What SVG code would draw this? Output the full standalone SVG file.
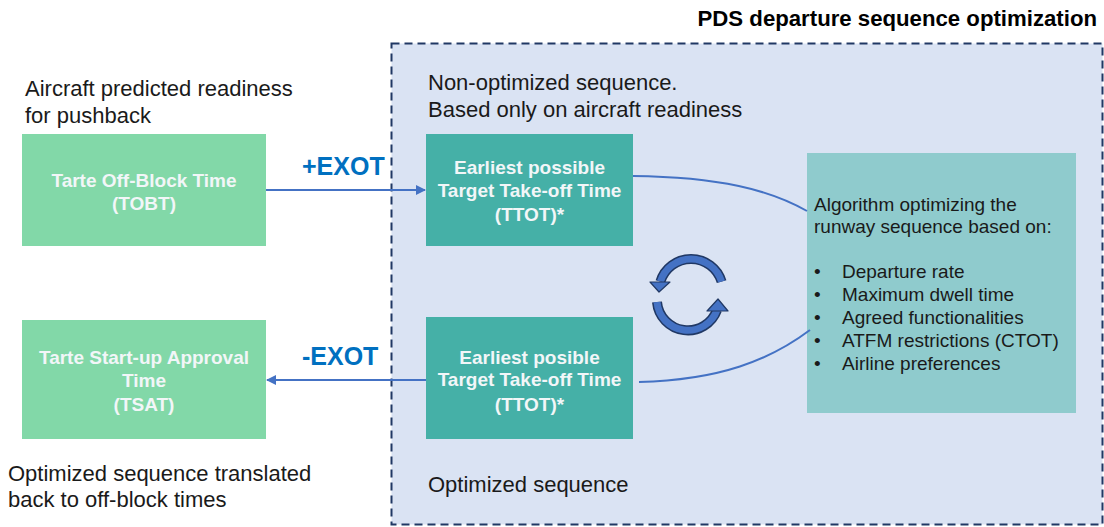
<svg xmlns="http://www.w3.org/2000/svg" width="1104" height="527" viewBox="0 0 1104 527">
<defs>
<style>
.lbl{font-family:"Liberation Sans",Arial,sans-serif;font-size:22px;fill:#1a1a1a}
.box{font-family:"Liberation Sans",Arial,sans-serif;font-size:19px;font-weight:bold;fill:#f2f6f8;text-anchor:middle}
.alg{font-family:"Liberation Sans",Arial,sans-serif;font-size:19px;fill:#1a1a1a}
.exot{font-family:"Liberation Sans",Arial,sans-serif;font-size:25px;font-weight:bold;fill:#0070c0}
.conn{fill:none;stroke:#4472c4;stroke-width:2}
.cyc{fill:none;stroke-linecap:butt}
</style>
<marker id="ah" viewBox="0 0 10 10" refX="9" refY="5" markerWidth="5" markerHeight="5" orient="auto-start-reverse" markerUnits="strokeWidth">
<path d="M0,0 L10,5 L0,10 z" fill="#4472c4"/>
</marker>
</defs>
<rect width="1104" height="527" fill="#ffffff"/>
<g id="region">
<rect x="391.5" y="43.5" width="711" height="481" fill="#dae3f3" stroke="#203864" stroke-width="2" stroke-dasharray="8,5"/>
<text x="1097" y="26" text-anchor="end" style="font-family:'Liberation Sans',Arial,sans-serif;font-size:22.2px;font-weight:bold;fill:#000">PDS departure sequence optimization</text>
</g>
<g id="labels">
<text class="lbl" x="25" y="96">Aircraft predicted readiness</text>
<text class="lbl" x="25" y="123">for pushback</text>
<text class="lbl" x="428" y="90">Non-optimized sequence.</text>
<text class="lbl" x="428" y="117">Based only on aircraft readiness</text>
<text class="lbl" x="428" y="492">Optimized sequence</text>
<text class="lbl" x="8" y="481">Optimized sequence translated</text>
<text class="lbl" x="8" y="507">back to off-block times</text>
</g>
<g id="tobt">
<rect x="22" y="134" width="244" height="112" fill="#82d8a8"/>
<text class="box" x="144" y="187">Tarte Off-Block Time</text>
<text class="box" x="144" y="210">(TOBT)</text>
</g>
<g id="tsat">
<rect x="22" y="320" width="244" height="119" fill="#82d8a8"/>
<text class="box" x="144" y="364">Tarte Start-up Approval</text>
<text class="box" x="144" y="387">Time</text>
<text class="box" x="144" y="411">(TSAT)</text>
</g>
<g id="ttot1">
<rect x="426" y="134" width="207" height="112" fill="#45b0a7"/>
<text class="box" x="529.5" y="174">Earliest possible</text>
<text class="box" x="529.5" y="197">Target Take-off Time</text>
<text class="box" x="529.5" y="221">(TTOT)*</text>
</g>
<g id="ttot2">
<rect x="426" y="317" width="207" height="122" fill="#45b0a7"/>
<text class="box" x="529.5" y="364">Earliest posible</text>
<text class="box" x="529.5" y="386">Target Take-off Time</text>
<text class="box" x="529.5" y="411">(TTOT)*</text>
</g>
<g id="algorithm">
<rect x="807" y="153" width="269" height="260" fill="#8fcbcd"/>
<text class="alg" x="814" y="211">Algorithm optimizing the</text>
<text class="alg" x="814" y="233">runway sequence based on:</text>
<text class="alg" x="814" y="278">•</text><text class="alg" x="842" y="278">Departure rate</text>
<text class="alg" x="814" y="301">•</text><text class="alg" x="842" y="301">Maximum dwell time</text>
<text class="alg" x="814" y="324">•</text><text class="alg" x="842" y="324">Agreed functionalities</text>
<text class="alg" x="814" y="347">•</text><text class="alg" x="842" y="347">ATFM restrictions (CTOT)</text>
<text class="alg" x="814" y="370">•</text><text class="alg" x="842" y="370">Airline preferences</text>
</g>
<g id="cycle">
<path class="cyc" d="M721.6,281.6 A32,32 0 0 0 660.4,281.6" stroke="#203864" stroke-width="10"/>
<path class="cyc" d="M721.6,281.6 A32,32 0 0 0 660.4,281.6" stroke="#4472c4" stroke-width="7"/>
<polygon points="650,282 670,282 659,292" fill="#4472c4" stroke="#203864" stroke-width="1.2" stroke-linejoin="round"/>
<path class="cyc" d="M657,302 A31,31 0 0 0 717,310" stroke="#203864" stroke-width="10"/>
<path class="cyc" d="M657,302 A31,31 0 0 0 717,310" stroke="#4472c4" stroke-width="7"/>
<polygon points="707,311 728,311 718,299" fill="#4472c4" stroke="#203864" stroke-width="1.2" stroke-linejoin="round"/>
</g>
<g id="connectors">
<text class="exot" x="302" y="175">+EXOT</text>
<text class="exot" x="302" y="365">-EXOT</text>
<line class="conn" x1="266" y1="190" x2="425" y2="190" marker-end="url(#ah)"/>
<line class="conn" x1="426" y1="380" x2="267" y2="380" marker-end="url(#ah)"/>
<path class="conn" d="M633,176 C720,177 770,190 807,211"/>
<path class="conn" d="M639,382 C720,380 770,360 810,330"/>
</g>
</svg>
